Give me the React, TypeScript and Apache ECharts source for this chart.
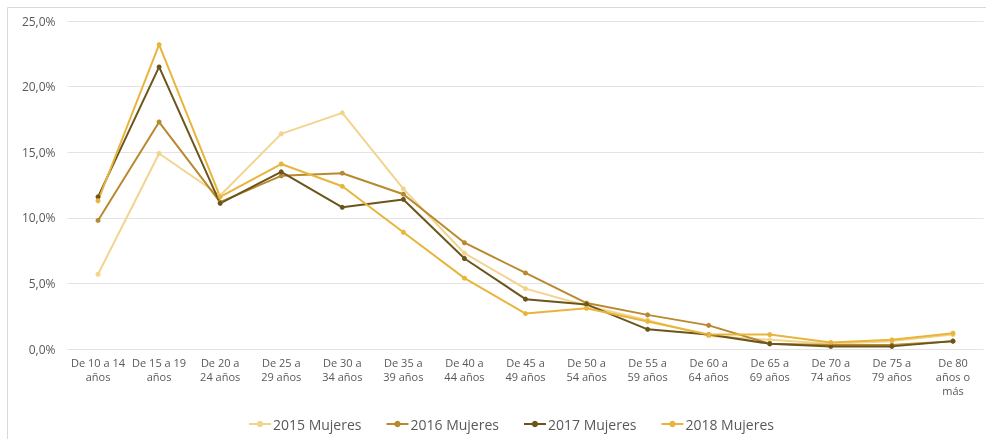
import React, { useEffect, useRef } from "react";
import * as echarts from "echarts";

const categories = [
  "De 10 a 14\naños", "De 15 a 19\naños", "De 20 a\n24 años", "De 25 a\n29 años", "De 30 a\n34 años",
  "De 35 a\n39 años", "De 40 a\n44 años", "De 45 a\n49 años", "De 50 a\n54 años", "De 55 a\n59 años",
  "De 60 a\n64 años", "De 65 a\n69 años", "De 70 a\n74 años", "De 75 a\n79 años", "De 80\naños o\nmás",
];
const s2015 = [5.7, 14.9, 11.7, 16.4, 18.0, 12.2, 7.3, 4.6, 3.3, 2.2, 1.0, 0.7, 0.4, 0.6, 1.1];
const s2016 = [9.8, 17.3, 11.2, 13.2, 13.4, 11.8, 8.1, 5.8, 3.5, 2.6, 1.8, 0.4, 0.3, 0.3, 0.6];
const s2017 = [11.6, 21.5, 11.1, 13.5, 10.8, 11.4, 6.9, 3.8, 3.4, 1.5, 1.1, 0.4, 0.2, 0.2, 0.6];
const s2018 = [11.3, 23.2, 11.6, 14.1, 12.4, 8.9, 5.4, 2.7, 3.1, 2.1, 1.1, 1.1, 0.5, 0.7, 1.2];
const seriesNames = ["2015 Mujeres", "2016 Mujeres", "2017 Mujeres", "2018 Mujeres"];
const seriesData = [s2015, s2016, s2017, s2018];
const colors = ["#F2D48E", "#B8892E", "#6B551B", "#E8B53C"];

export default function App() {
  const ref = useRef<HTMLDivElement>(null);
  useEffect(() => {
    const chart = echarts.init(ref.current!, null, { renderer: "svg" });
    const font = "'Open Sans', sans-serif";
    chart.setOption({
      animation: false,
      color: colors,
      graphic: [
        {
          type: "rect",
          shape: { x: 7.5, y: 7.5, width: 990, height: 440 },
          style: { fill: "none", stroke: "#D9D9D9", lineWidth: 1 },
          silent: true,
        },
      ],
      grid: { left: 67.5, right: 2.5, top: 21, bottom: 90 },
      legend: {
        top: 412,
        left: 243,
        itemWidth: 22,
        itemHeight: 8,
        itemGap: 24,
        textStyle: { color: "#595959", fontSize: 14, fontFamily: font, padding: [0, 0, 0, -3] },
        data: seriesNames,
      },
      xAxis: {
        type: "category",
        data: categories,
        boundaryGap: true,
        axisLine: { show: false },
        axisTick: { show: false },
        axisLabel: {
          interval: 0,
          color: "#595959",
          fontSize: 11,
          fontFamily: font,
          lineHeight: 14,
          margin: 6,
          align: "center",
        },
      },
      yAxis: {
        type: "value",
        min: 0,
        max: 25,
        interval: 5,
        axisLine: { show: false },
        axisTick: { show: false },
        splitLine: { lineStyle: { color: "#E3E3E3", width: 1 } },
        axisLabel: {
          color: "#595959",
          fontSize: 12,
          fontFamily: font,
          margin: 12,
          formatter: (v: number) => v.toFixed(1).replace(".", ",") + "%",
        },
      },
      series: seriesNames.map((name, i) => ({
        name,
        type: "line",
        data: seriesData[i],
        symbol: "circle",
        symbolSize: 5,
        lineStyle: { width: 2, color: colors[i] },
        itemStyle: { color: colors[i] },
      })),
    });
    return () => chart.dispose();
  }, []);
  return <div ref={ref} style={{ position: "fixed", left: 0, top: 0, width: 986, height: 439 }} />;
}
